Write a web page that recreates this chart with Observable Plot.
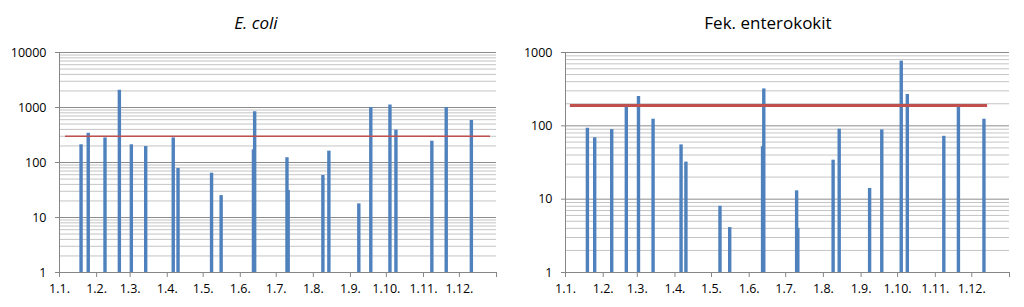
<!DOCTYPE html>
<html>
<head>
<meta charset="utf-8">
<script src="https://cdn.jsdelivr.net/npm/d3@7"></script>
<script src="https://cdn.jsdelivr.net/npm/@observablehq/plot@0.6"></script>
<style>
  html, body { margin: 0; padding: 0; background: #fff; }
  #wrap { display: flex; width: 1024px; height: 307px; }
  .panel { width: 512px; }
  .title { height: 38px; line-height: 46px; text-align: center; font-family: "Open Sans", sans-serif; font-size: 17px; color: #000; }
</style>
</head>
<body>
<div id="wrap">
  <div class="panel" id="p1"><div class="title"><i>E. coli</i></div></div>
  <div class="panel" id="p2"><div class="title">Fek. enterokokit</div></div>
</div>
<script>
// sample dates (same for both indicators)
const sampleDates = ["2013-01-19","2013-01-25","2013-02-08","2013-02-20","2013-03-02","2013-03-14",
  "2013-04-06","2013-04-10","2013-05-08","2013-05-16","2013-06-12","2013-06-13",
  "2013-07-10","2013-07-11","2013-08-09","2013-08-14","2013-09-08","2013-09-18",
  "2013-10-04","2013-10-09","2013-11-08","2013-11-20","2013-12-11"];
const ecoli = [210, 340, 280, 2050, 210, 195, 280, 78, 64, 25, 170, 840, 122, 31, 58, 161, 17.7, 1000, 1110, 388, 244, 1000, 583];
const enterococci = [93, 69, 89, 185, 251, 123, 55, 32, 8, 4.1, 52, 319, 13, 4, 34, 90, 14, 88, 762, 267, 72, 185, 123];

// limit lines
const ecoliLimit = 300;
const ecoliLimitSpan = ["2013-01-06", "2013-12-27"];
const enteroLimit = 190;
const enteroLimitSpan = ["2013-01-05", "2013-12-14"];

// axis ticks
const monthTicks = ["2013-01-01","2013-02-01","2013-03-01","2013-04-01","2013-05-01","2013-06-01",
  "2013-07-01","2013-08-01","2013-09-01","2013-10-01","2013-11-01","2013-12-01","2014-01-01"];
const monthLabels = ["1.1.","1.2.","1.3.","1.4.","1.5.","1.6.","1.7.","1.8.","1.9.","1.10.","1.11.","1.12.",""];
const ecoliTicks = [1, 10, 100, 1000, 10000];
const enteroTicks = [1, 10, 100, 1000];

const parse = s => new Date(s + "T00:00:00Z");
const xDomain = [parse(monthTicks[0]), parse(monthTicks[monthTicks.length - 1])];

function minorOf(ticks) {
  const out = [];
  for (let i = 0; i < ticks.length - 1; i++) for (let k = 2; k <= 9; k++) out.push(ticks[i] * k);
  return out;
}

function makeChart({values, limit, span, ticks, marginLeft, marginRight, limitWidth}) {
  const data = sampleDates.map((d, i) => ({date: parse(d), value: values[i]}));
  const tickDates = monthTicks.map(parse);
  return Plot.plot({
    width: 512,
    height: 269,
    marginTop: 14,
    marginBottom: 35,
    marginLeft,
    marginRight,
    style: {fontFamily: "Open Sans, sans-serif", fontSize: "12.5px", color: "#000", background: "#fff"},
    x: {type: "utc", domain: xDomain},
    y: {type: "log", domain: [ticks[0], ticks[ticks.length - 1]]},
    marks: [
      Plot.ruleY(minorOf(ticks), {stroke: "#c4c4c4", strokeWidth: 1}),
      Plot.ruleY(ticks.slice(1), {stroke: "#8c8c8c", strokeWidth: 1}),
      Plot.ruleX(data, {x: "date", y1: ticks[0], y2: "value", stroke: "#4f81bd", strokeWidth: 3.4}),
      Plot.ruleY([limit], {x1: parse(span[0]), x2: parse(span[1]), stroke: "#c0504d", strokeWidth: limitWidth}),
      Plot.ruleY([ticks[0]], {stroke: "#868686"}),
      Plot.ruleX([xDomain[0]], {stroke: "#868686"}),
      Plot.axisX({ticks: tickDates, tickFormat: (d, i) => monthLabels[i], tickSize: 5, tickPadding: 7,
        stroke: "#868686", fill: "#000", label: null}),
      Plot.axisY({ticks, tickFormat: d => String(d), tickSize: 4, tickPadding: 9,
        stroke: "#868686", fill: "#000", label: null})
    ]
  });
}

document.getElementById("p1").appendChild(makeChart({
  values: ecoli, limit: ecoliLimit, span: ecoliLimitSpan, ticks: ecoliTicks,
  marginLeft: 59, marginRight: 16, limitWidth: 1.6
}));
document.getElementById("p2").appendChild(makeChart({
  values: enterococci, limit: enteroLimit, span: enteroLimitSpan, ticks: enteroTicks,
  marginLeft: 53, marginRight: 15, limitWidth: 3
}));
</script>
</body>
</html>
